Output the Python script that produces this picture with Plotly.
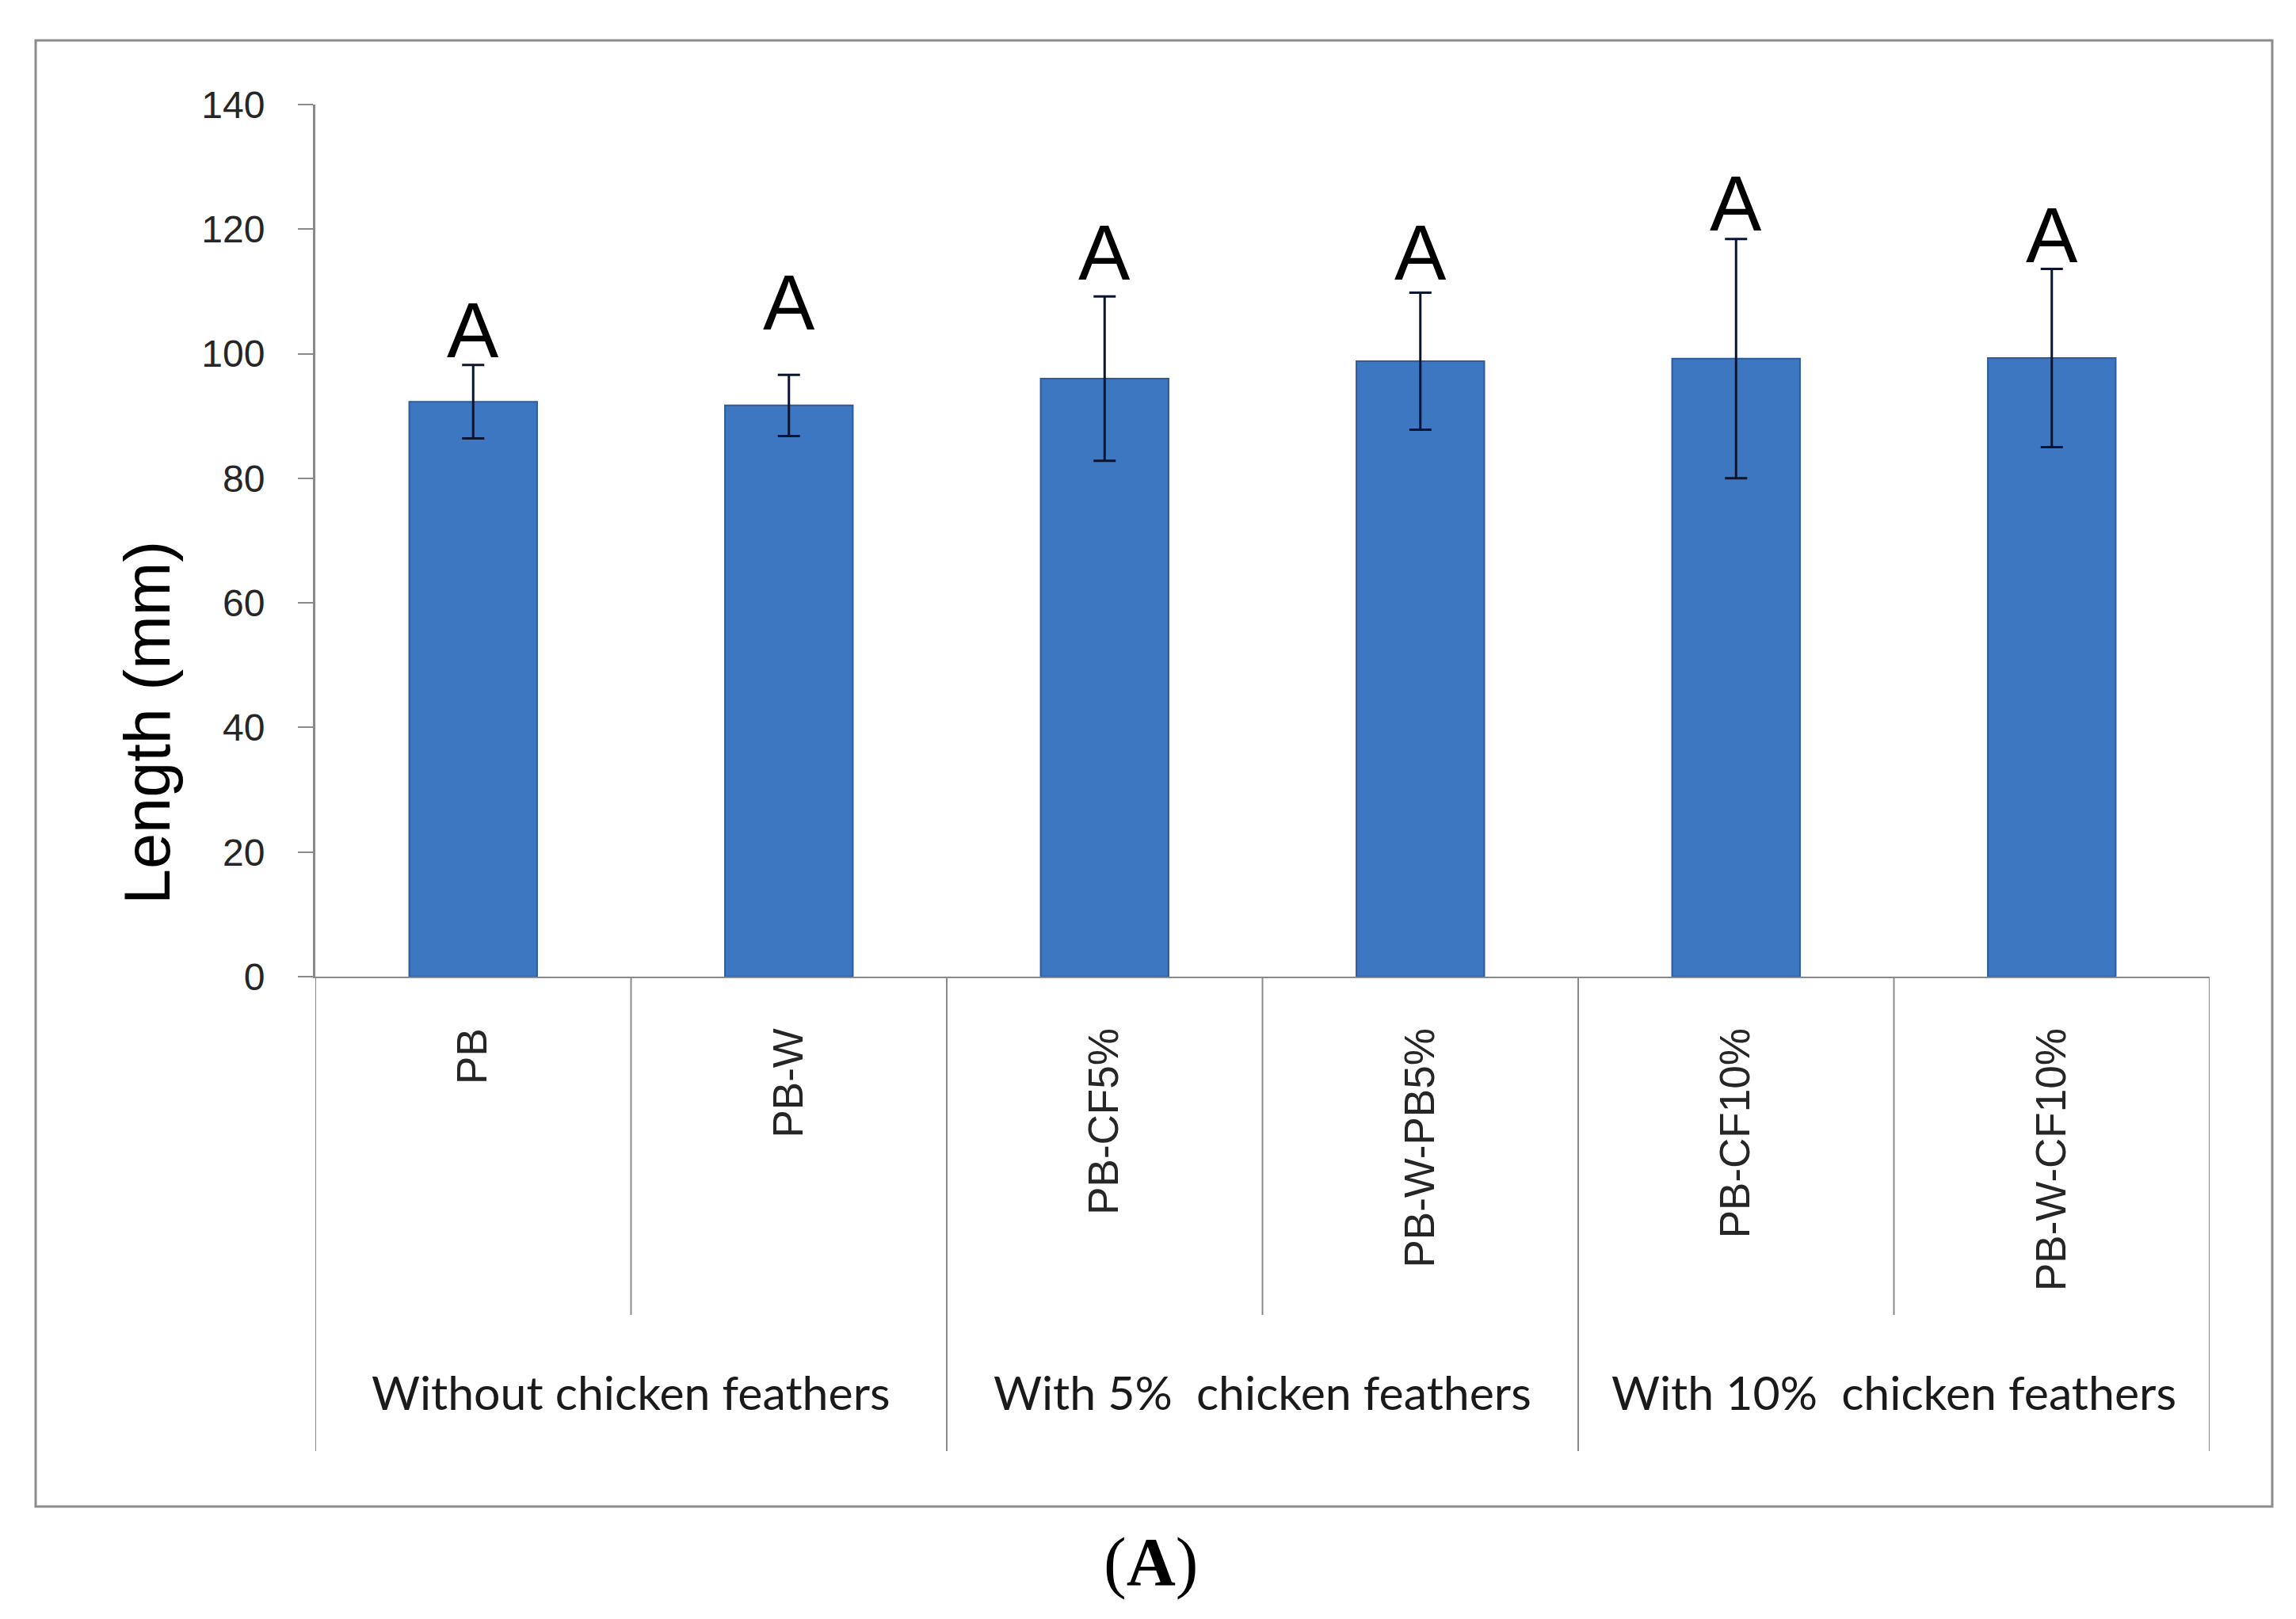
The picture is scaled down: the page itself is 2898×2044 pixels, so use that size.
import plotly.graph_objects as go

# ---- data ----
categories = ["PB", "PB-W", "PB-CF5%", "PB-W-PB5%", "PB-CF10%", "PB-W-CF10%"]
length_mm = [92.3, 91.7, 96.0, 98.8, 99.2, 99.3]
length_sd = [5.9, 4.9, 13.2, 11.0, 19.2, 14.3]
letters = ["A", "A", "A", "A", "A", "A"]
letter_y = [99.3, 103.8, 111.8, 111.8, 119.6, 114.6]
groups = ["Without chicken feathers", "With 5%  chicken feathers", "With 10%  chicken feathers"]
group_members = [2, 2, 2]
y_ticks = [0, 20, 40, 60, 80, 100, 120, 140]

W, H = 2898, 2044
L, R, T, B = 390, 117, 124, 819
plot_w = W - L - R
plot_h = H - T - B

def px_x(X):
    return (X - L) / plot_w

def px_y(Y):
    return (H - B - Y) / plot_h

xs = list(range(len(categories)))

fig = go.Figure()
fig.add_trace(go.Bar(
    x=xs, y=length_mm, width=0.405,
    marker=dict(color="#3E77C1", line=dict(color="#2F5C9A", width=2)),
    error_y=dict(type="data", array=length_sd, visible=True,
                 color="#0B1530", thickness=3, width=14),
    showlegend=False,
))

annotations = []
# significance letters
for i, (lt, ly) in enumerate(zip(letters, letter_y)):
    annotations.append(dict(x=i, y=ly, xref="x", yref="y", text=lt, showarrow=False,
                            yanchor="bottom", xanchor="center", yshift=-22,
                            font=dict(family="Liberation Sans, Arial", size=98, color="#000000")))

# group labels and category-table dividers
shapes = []
start = 0
sub_bottom = px_y(1652)
grp_bottom = px_y(1824)
for g, n in zip(groups, group_members):
    center = start + (n - 1) / 2
    annotations.append(dict(x=center, y=px_y(1749), xref="x", yref="paper", text=g,
                            showarrow=False, xanchor="center", yanchor="middle",
                            font=dict(family="Lato, Liberation Sans", size=59, color="#1A1A1A")))
    shapes.append(dict(type="line", xref="x", yref="paper", x0=start - 0.5, x1=start - 0.5,
                       y0=0, y1=grp_bottom, line=dict(color="#8A8A8A", width=2)))
    for k in range(1, n):
        xd = start + k - 0.5
        shapes.append(dict(type="line", xref="x", yref="paper", x0=xd, x1=xd,
                           y0=0, y1=sub_bottom, line=dict(color="#8A8A8A", width=2)))
    start += n
shapes.append(dict(type="line", xref="x", yref="paper", x0=start - 0.5, x1=start - 0.5,
                   y0=0, y1=grp_bottom, line=dict(color="#8A8A8A", width=2)))

# outer chart border
shapes.append(dict(type="rect", xref="paper", yref="paper",
                   x0=px_x(37), x1=px_x(2860), y0=px_y(1894), y1=px_y(43),
                   line=dict(color="#8C8C8C", width=3), layer="below"))

# y-axis title
annotations.append(dict(x=px_x(178), y=px_y(905), xref="paper", yref="paper",
                        text="Length (mm)", textangle=-90, showarrow=False,
                        xanchor="center", yanchor="middle",
                        font=dict(family="Liberation Sans, Arial", size=81, color="#000000")))

# panel label
annotations.append(dict(x=px_x(1444), y=px_y(1964), xref="paper", yref="paper",
                        text="(<b>A</b>)", showarrow=False, xanchor="center", yanchor="middle",
                        font=dict(family="Liberation Serif, Times New Roman", size=86, color="#000000")))

fig.update_layout(
    width=W, height=H,
    margin=dict(l=L, r=R, t=T, b=B, pad=0),
    paper_bgcolor="white", plot_bgcolor="white",
    annotations=annotations, shapes=shapes,
    xaxis=dict(range=[-0.5, len(categories) - 0.5], tickmode="array", tickvals=xs,
               ticktext=categories, tickangle=-90, ticks="", showgrid=False, zeroline=False,
               showline=True, linecolor="#8A8A8A", linewidth=2,
               ticklabelstandoff=42,
               tickfont=dict(family="Liberation Sans, Arial", size=53, color="#262626")),
    yaxis=dict(range=[0, 140], tickvals=y_ticks, ticks="outside", ticklen=19,
               tickcolor="#8A8A8A", tickwidth=2, showgrid=False, zeroline=False,
               showline=True, linecolor="#8A8A8A", linewidth=3,
               ticklabelstandoff=32,
               tickfont=dict(family="Liberation Sans, Arial", size=48, color="#262626")),
)

fig.write_html("out.html")
